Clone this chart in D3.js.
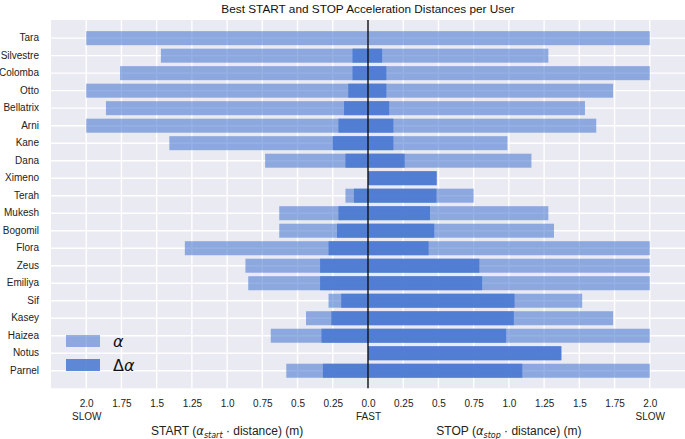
<!DOCTYPE html>
<html>
<head>
<meta charset="utf-8">
<script src="https://cdn.jsdelivr.net/npm/d3@7/dist/d3.min.js"></script>
<style>
  html, body { margin: 0; padding: 0; background: #ffffff; }
  svg { display: block; font-family: "Liberation Sans", Arial, Helvetica, sans-serif; }
</style>
</head>
<body>
<svg id="chart" width="685" height="439"></svg>
<script>
const users = ["Tara", "Silvestre", "Colomba", "Otto", "Bellatrix", "Arni", "Kane", "Dana", "Ximeno", "Terah",
  "Mukesh", "Bogomil", "Flora", "Zeus", "Emiliya", "Sif", "Kasey", "Haizea", "Notus", "Parnel"];
const startAlpha = [2.0, 1.47, 1.76, 2.0, 1.86, 2.0, 1.41, 0.73, 0, 0.16, 0.63, 0.63, 1.30, 0.87, 0.85, 0.28, 0.44, 0.69, 0, 0.58];
const startDelta = [0, 0.11, 0.11, 0.14, 0.17, 0.21, 0.25, 0.16, 0, 0.10, 0.21, 0.22, 0.28, 0.34, 0.34, 0.19, 0.26, 0.33, 0, 0.32];
const stopAlpha = [2.0, 1.28, 2.0, 1.74, 1.54, 1.62, 0.99, 1.16, 0.49, 0.75, 1.28, 1.32, 2.0, 2.0, 2.0, 1.52, 1.74, 2.0, 1.375, 2.0];
const stopDelta = [0, 0.10, 0.13, 0.13, 0.15, 0.18, 0.18, 0.26, 0.486, 0.486, 0.44, 0.47, 0.43, 0.79, 0.81, 1.04, 1.035, 0.98, 1.37, 1.095];
const tickValues = [-2, -1.75, -1.5, -1.25, -1, -0.75, -0.5, -0.25, 0, 0.25, 0.5, 0.75, 1, 1.25, 1.5, 1.75, 2];
const tickLabels = ["2.0", "1.75", "1.5", "1.25", "1.0", "0.75", "0.5", "0.25", "0.0", "0.25", "0.5", "0.75", "1.0", "1.25", "1.5", "1.75", "2.0"];
const tickSubLabels = {"-2": "SLOW", "0": "FAST", "2": "SLOW"};

const svg = d3.select("#chart");
const plotLeft = 51, plotRight = 685, plotTop = 20, plotBottom = 388.3;
const bgColor = "#eaeaf2";
const barColor = "#4878d0";
const lightOpacity = 0.58;
const darkOpacity = 0.87;

const x = d3.scaleLinear().domain([-2.25, 2.25]).range([plotLeft, plotRight]);
const y = d3.scaleBand().domain(users).range([plotTop + 0.3, plotBottom + 0.3]).paddingInner(0.2).paddingOuter(0.62);

// background
svg.append("rect").attr("x", plotLeft).attr("y", plotTop).attr("width", plotRight - plotLeft).attr("height", plotBottom - plotTop).attr("fill", bgColor);

// grid
const grid = svg.append("g");
grid.selectAll("line.v").data(tickValues.filter(d => d !== 0)).join("line")
  .attr("x1", d => x(d)).attr("x2", d => x(d)).attr("y1", plotTop).attr("y2", plotBottom)
  .attr("stroke", "#ffffff").attr("stroke-width", 1.4);
grid.selectAll("line.h").data(users).join("line")
  .attr("x1", plotLeft).attr("x2", plotRight)
  .attr("y1", d => y(d) + y.bandwidth() / 2).attr("y2", d => y(d) + y.bandwidth() / 2)
  .attr("stroke", "#ffffff").attr("stroke-width", 1.4);

// bars
const rows = users.map((u, i) => ({u, sa: startAlpha[i], sd: startDelta[i], ta: stopAlpha[i], td: stopDelta[i]}));
const bars = svg.append("g");
function drawBars(key, sign, opacity) {
  bars.append("g").selectAll("rect").data(rows.filter(r => r[key] > 0)).join("rect")
    .attr("x", r => sign < 0 ? x(-r[key]) : x(0))
    .attr("width", r => Math.abs(x(r[key]) - x(0)))
    .attr("y", r => y(r.u))
    .attr("height", y.bandwidth())
    .attr("fill", barColor)
    .attr("fill-opacity", opacity);
}
drawBars("sa", -1, lightOpacity);
drawBars("ta", 1, lightOpacity);
drawBars("sd", -1, darkOpacity);
drawBars("td", 1, darkOpacity);

// zero line
svg.append("line").attr("x1", x(0)).attr("x2", x(0)).attr("y1", plotTop).attr("y2", plotBottom)
  .attr("stroke", "#111111").attr("stroke-width", 1.4);

// y axis
const yAxis = svg.append("g").attr("transform", `translate(${plotLeft},0)`)
  .call(d3.axisLeft(y).tickSize(0).tickPadding(12));
yAxis.select(".domain").remove();
yAxis.selectAll("text").attr("font-size", 10).attr("fill", "#222").attr("font-family", "Liberation Sans, Arial, sans-serif");

// x axis
const xAxis = svg.append("g").attr("transform", `translate(0,${plotBottom})`)
  .call(d3.axisBottom(x).tickValues(tickValues).tickSize(0).tickPadding(12)
    .tickFormat((d, i) => tickLabels[i]));
xAxis.select(".domain").remove();
xAxis.selectAll("text").attr("font-size", 10).attr("fill", "#222").attr("font-family", "Liberation Sans, Arial, sans-serif");
xAxis.selectAll(".tick").filter(d => tickSubLabels[String(d)] !== undefined)
  .append("text").attr("y", 24.5).attr("dy", "0.71em").attr("fill", "#222").attr("font-size", 10)
  .attr("text-anchor", "middle").attr("font-family", "Liberation Sans, Arial, sans-serif")
  .text(d => tickSubLabels[String(d)]);

// axis titles
function axisTitle(cx, main, sub) {
  const t = svg.append("text").attr("x", cx).attr("y", 435).attr("text-anchor", "middle")
    .attr("font-size", 12).attr("fill", "#222");
  t.append("tspan").text(main + " (");
  t.append("tspan").attr("font-style", "italic").attr("font-family", "DejaVu Sans, sans-serif").attr("font-size", 11.5).text("α");
  t.append("tspan").attr("font-style", "italic").attr("font-family", "DejaVu Sans, sans-serif").attr("font-size", 8).attr("dy", 3).text(sub);
  t.append("tspan").attr("dy", -3).text(" · distance) (m)");
}
axisTitle(x(-1), "START", "start");
axisTitle(x(1), "STOP", "stop");

// title
svg.append("text").attr("x", x(0)).attr("y", 12.5).attr("text-anchor", "middle")
  .attr("font-size", 11.8).attr("fill", "#111").text("Best START and STOP Acceleration Distances per User");

// legend
const legendItems = [{label: "α", op: lightOpacity, delta: false}, {label: "Δα", op: darkOpacity, delta: true}];
const lg = svg.append("g");
legendItems.forEach((d, i) => {
  const yy = 335 + i * 24;
  lg.append("rect").attr("x", 66).attr("y", yy).attr("width", 34).attr("height", 12)
    .attr("fill", barColor).attr("fill-opacity", d.op);
  const t = lg.append("text").attr("x", 113).attr("y", yy + 12).attr("font-size", 16)
    .attr("font-family", "DejaVu Sans, sans-serif").attr("fill", "#111");
  if (d.delta) t.append("tspan").text("Δ");
  t.append("tspan").attr("font-style", "italic").text("α");
});
</script>
</body>
</html>
